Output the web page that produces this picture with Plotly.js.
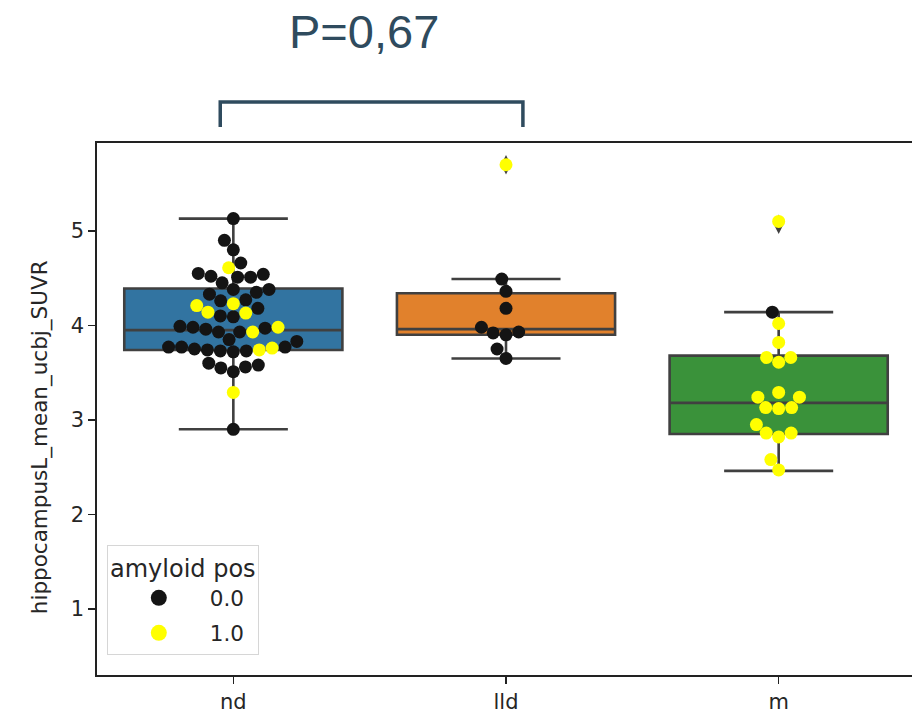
<!DOCTYPE html>
<html>
<head>
<meta charset="utf-8">
<script src="https://cdn.plot.ly/plotly-3.0.1.min.js"></script>
<style>
  html, body { margin: 0; padding: 0; overflow: hidden; background: #fff; }
  #chart { width: 930px; height: 713px; }
</style>
</head>
<body>
<div id="chart"></div>
<script>
// Groups on the x axis and the legend labels for amyloid status
const categories = ['nd', 'lld', 'm'];
const hueLabels = ['0.0', '1.0'];

// Left hippocampus SUVR per subject, split by amyloid status (0.0 / 1.0)
const ndNeg = [5.13, 4.90, 4.80, 4.66, 4.55, 4.54, 4.52, 4.51, 4.51, 4.45, 4.38, 4.38, 4.35, 4.33,
               4.27, 4.26, 4.18, 4.10, 4.09, 3.99, 3.98, 3.97, 3.96, 3.93, 3.93, 3.85, 3.83,
               3.77, 3.77, 3.77, 3.75, 3.74, 3.73, 3.73, 3.72, 3.60, 3.58, 3.56, 3.55, 3.51, 2.90];
const ndPos = [4.61, 4.23, 4.21, 4.14, 4.13, 3.98, 3.93, 3.76, 3.74, 3.29];
const lldNeg = [4.49, 4.36, 4.18, 3.98, 3.93, 3.92, 3.90, 3.75, 3.65];
const lldPos = [5.70];
const mNeg = [4.14];
const mPos = [5.10, 4.02, 3.82, 3.66, 3.66, 3.61, 3.29, 3.24, 3.24, 3.13, 3.13, 3.12,
              2.95, 2.86, 2.86, 2.82, 2.58, 2.47];

// Box summary per group
const boxQ1 = [3.74, 3.90, 2.85];
const boxMedian = [3.95, 3.96, 3.18];
const boxQ3 = [4.39, 4.34, 3.68];
const boxLowerFence = [2.90, 3.65, 2.46];
const boxUpperFence = [5.13, 4.49, 4.14];

// Outliers beyond the whiskers
const flierGroup = [1, 2];
const flierValues = [5.70, 5.07];

// Axis and legend texts
const yTitle = 'hippocampusL_mean_ucbj_SUVR';
const legendTitle = 'amyloid pos';
// Significance label over nd vs lld
const pLabel = 'P=0,67';

// ---- layout constants ----
const W = 930, H = 713;
const M = { l: 97, r: 15, t: 143, b: 38 };
const xRange = [-0.5, 2.5];
const yRange = [0.30, 5.93];
const pxPerX = (W - M.l - M.r) / (xRange[1] - xRange[0]);
const pxPerY = (H - M.t - M.b) / (yRange[1] - yRange[0]);
const DOT = 13;   // marker diameter in px
const boxColors = ['#3274a1', '#e1812c', '#3a923a'];
const hueColors = ['#141414', '#ffff00'];
const edgeGray = '#404040';
const axisColor = '#222';
const textColor = '#262626';
const noteColor = '#2f4b5e';
const FONT = 'DejaVu Sans, sans-serif';

// Beeswarm placement: each point goes to the nearest free slot to the group centre
function swarm(points, center) {
  const pts = points.map(p => ({ y: p.y, hue: p.hue, py: p.y * pxPerY, px: 0 }));
  const order = pts.slice().sort((a, b) => a.py - b.py);
  const placed = [];
  for (const p of order) {
    const near = placed.filter(q => Math.abs(q.py - p.py) < DOT);
    const cands = [0];
    for (const q of near) {
      const dx = Math.sqrt(DOT * DOT - (q.py - p.py) ** 2);
      cands.push(q.px - dx, q.px + dx);
    }
    cands.sort((a, b) => Math.abs(a) - Math.abs(b));
    for (const c of cands) {
      const ok = near.every(q => (q.px - c) ** 2 + (q.py - p.py) ** 2 >= DOT * DOT - 1e-6);
      if (ok) { p.px = c; break; }
    }
    placed.push(p);
  }
  return pts.map(p => ({ x: center + p.px / pxPerX, y: p.y, hue: p.hue }));
}

const groups = [[ndNeg, ndPos], [lldNeg, lldPos], [mNeg, mPos]];
const swarmPts = [];
groups.forEach((g, i) => {
  const pts = [];
  g.forEach((vals, h) => vals.forEach(v => pts.push({ y: v, hue: h })));
  swarm(pts, i).forEach(p => swarmPts.push(p));
});

const traces = [];

// boxes
categories.forEach((c, i) => {
  traces.push({
    type: 'box',
    x: [i],
    q1: [boxQ1[i]], median: [boxMedian[i]], q3: [boxQ3[i]],
    lowerfence: [boxLowerFence[i]], upperfence: [boxUpperFence[i]],
    width: 0.8, whiskerwidth: 0.5,
    fillcolor: boxColors[i],
    line: { color: edgeGray, width: 2.6 },
    boxpoints: false, showlegend: false, hoverinfo: 'skip', name: c
  });
});

// fliers
traces.push({
  type: 'scatter', mode: 'markers',
  x: flierGroup, y: flierValues,
  marker: { symbol: 'diamond-tall', size: 14, color: edgeGray },
  showlegend: false, hoverinfo: 'skip'
});

// swarm points per amyloid status
hueLabels.forEach((lab, h) => {
  const sel = swarmPts.filter(p => p.hue === h);
  traces.push({
    type: 'scatter', mode: 'markers',
    x: sel.map(p => p.x), y: sel.map(p => p.y),
    marker: { size: DOT, color: hueColors[h], line: { width: 0 } },
    name: lab, showlegend: false
  });
});

// legend entries (one group each, so the group gap spaces the rows)
hueLabels.forEach((lab, h) => {
  traces.push({
    type: 'scatter', mode: 'markers', x: [null], y: [null],
    marker: { size: 18, color: hueColors[h] },
    name: lab, legendgroup: 'hue' + h, showlegend: true
  });
});

const layout = {
  width: W, height: H,
  margin: M,
  paper_bgcolor: '#fff', plot_bgcolor: '#fff',
  font: { family: FONT, size: 21, color: textColor },
  showlegend: true,
  xaxis: {
    range: xRange, tickvals: [0, 1, 2], ticktext: categories,
    ticks: 'outside', ticklen: 7, tickwidth: 1.5, tickcolor: axisColor,
    showline: true, linecolor: axisColor, linewidth: 1.6, mirror: true,
    showgrid: false, zeroline: false, fixedrange: true
  },
  yaxis: {
    range: yRange, tickvals: [1, 2, 3, 4, 5],
    ticks: 'outside', ticklen: 7, tickwidth: 1.5, tickcolor: axisColor,
    showline: true, linecolor: axisColor, linewidth: 1.6, mirror: true,
    showgrid: false, zeroline: false, fixedrange: true
  },
  legend: {
    x: 0.012, y: 0.244, xanchor: 'left', yanchor: 'top',
    bgcolor: 'rgba(255,255,255,0.8)', bordercolor: '#d6d6d6', borderwidth: 1,
    font: { size: 21.5, color: textColor },
    title: { text: legendTitle, side: 'top center', font: { size: 24 } },
    itemwidth: 92, tracegroupgap: 4
  },
  shapes: [{
    type: 'path', xref: 'x', yref: 'paper',
    path: 'M -0.048,1.030 L -0.048,1.077 L 1.062,1.077 L 1.062,1.030',
    line: { color: noteColor, width: 3.5 }
  }],
  annotations: [{
    xref: 'x', yref: 'paper', x: 0.48, y: 1.209,
    xanchor: 'center', yanchor: 'middle', showarrow: false,
    text: pLabel,
    font: { family: 'Liberation Sans, Arial, sans-serif', size: 47, color: noteColor }
  }, {
    xref: 'paper', yref: 'paper', x: -0.0697, y: 0.447,
    xanchor: 'center', yanchor: 'middle', showarrow: false, textangle: -90,
    text: yTitle,
    font: { family: FONT, size: 21.5, color: textColor }
  }]
};

Plotly.newPlot('chart', traces, layout, { displayModeBar: false, staticPlot: true });
</script>
</body>
</html>
